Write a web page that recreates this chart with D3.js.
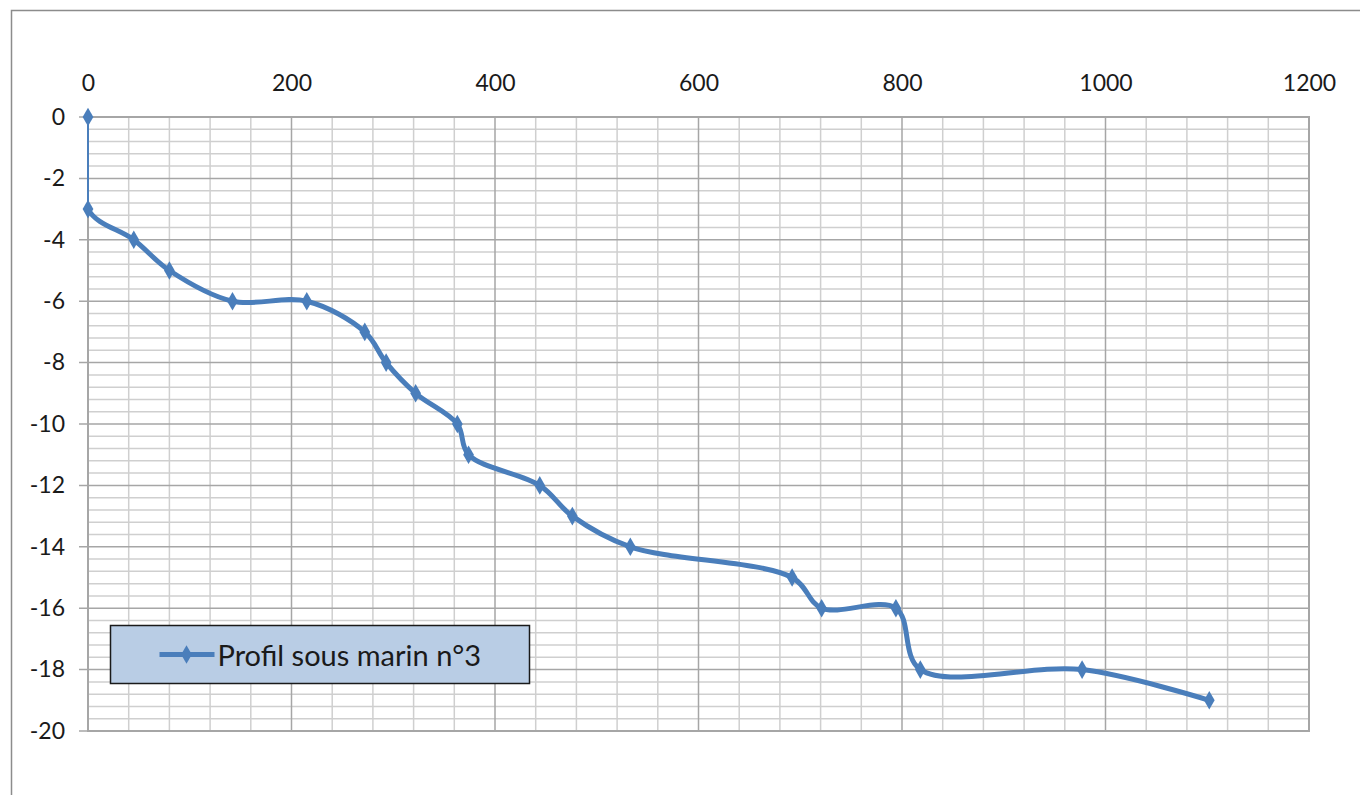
<!DOCTYPE html>
<html>
<head>
<meta charset="utf-8">
<script src="https://cdn.jsdelivr.net/npm/d3@7"></script>
<style>
  body { margin: 0; background: #fff; }
  text { font-family: Lato, "Open Sans", sans-serif; fill: #1a1a1a; }
</style>
</head>
<body>
<div id="chart"></div>
<script>
// profil sous marin n°3 : distance (m) / profondeur (m)
var distances = [0, 0, 45, 80, 142, 215, 272, 293, 322, 363, 374, 444, 476, 533, 692, 721, 794, 818, 977, 1102];
var profondeurs = [0, -3, -4, -5, -6, -6, -7, -8, -9, -10, -11, -12, -13, -14, -15, -16, -16, -18, -18, -19];
var xTicks = [0, 200, 400, 600, 800, 1000, 1200];
var yTicks = [0, -2, -4, -6, -8, -10, -12, -14, -16, -18, -20];
var seriesName = "Profil sous marin n°3";

var data = distances.map(function (d, i) { return { x: d, y: profondeurs[i] }; });

var margin = { top: 117, right: 51, bottom: 64, left: 88 },
    width = 1360 - margin.left - margin.right,
    height = 795 - margin.top - margin.bottom;

var svgRoot = d3.select("#chart")
    .append("svg")
    .attr("width", 1360)
    .attr("height", 795);

// cadre du graphique (seuls haut et gauche visibles)
svgRoot.append("rect")
    .attr("x", 11.5).attr("y", 10.5)
    .attr("width", 1400).attr("height", 900)
    .attr("fill", "none")
    .attr("stroke", "#8c8c8c")
    .attr("stroke-width", 1.5);

var svg = svgRoot.append("g")
    .attr("transform", "translate(" + margin.left + "," + margin.top + ")");

var x = d3.scaleLinear().domain([0, 1200]).range([0, width]);
var y = d3.scaleLinear().domain([0, -20]).range([0, height]);

// grille secondaire
svg.append("g")
    .selectAll("line")
    .data(d3.range(0, 1201, 40).filter(function (v) { return v % 200 !== 0; }))
    .enter().append("line")
    .attr("x1", function (d) { return x(d); }).attr("x2", function (d) { return x(d); })
    .attr("y1", 0).attr("y2", height)
    .attr("stroke", "#cfcfcf").attr("stroke-width", 1.5);

svg.append("g")
    .selectAll("line")
    .data(d3.range(0, 51).map(function (i) { return -i * 0.4; }).filter(function (v, i) { return i % 5 !== 0; }))
    .enter().append("line")
    .attr("x1", 0).attr("x2", width)
    .attr("y1", function (d) { return y(d); }).attr("y2", function (d) { return y(d); })
    .attr("stroke", "#cfcfcf").attr("stroke-width", 1.5);

// grille principale
svg.append("g")
    .selectAll("line")
    .data(xTicks)
    .enter().append("line")
    .attr("x1", function (d) { return x(d); }).attr("x2", function (d) { return x(d); })
    .attr("y1", 0).attr("y2", height)
    .attr("stroke", "#a6a6a6").attr("stroke-width", 1.5);

svg.append("g")
    .selectAll("line")
    .data(yTicks)
    .enter().append("line")
    .attr("x1", -9).attr("x2", width)
    .attr("y1", function (d) { return y(d); }).attr("y2", function (d) { return y(d); })
    .attr("stroke", "#a6a6a6").attr("stroke-width", 1.5);

svg.append("rect")
    .attr("width", width).attr("height", height)
    .attr("fill", "none")
    .attr("stroke", "#a6a6a6").attr("stroke-width", 2);

// axes (libellés seulement)
var xAxis = svg.append("g")
    .call(d3.axisTop(x).tickValues(xTicks).tickSize(0).tickPadding(26).tickFormat(d3.format("d")));
var yAxis = svg.append("g")
    .call(d3.axisLeft(y).tickValues(yTicks).tickSize(0).tickPadding(23).tickFormat(function (d) { return d === 0 ? "0" : "-" + Math.abs(d); }));
[xAxis, yAxis].forEach(function (a) {
    a.select(".domain").remove();
    a.selectAll("text").attr("font-size", 23).attr("font-family", "Lato").attr("fill", "#1a1a1a");
});

// courbe lissée
var color = "#4a7ebb";
var line = d3.line()
    .x(function (d) { return x(d.x); })
    .y(function (d) { return y(d.y); });

svg.append("clipPath").attr("id", "clipCurve")
    .append("rect")
    .attr("x", -30).attr("y", y(profondeurs[1]) - 2)
    .attr("width", width + 60).attr("height", height);

// premier tronçon vertical, trait fin
svg.append("path")
    .datum(data.slice(0, 2))
    .attr("fill", "none")
    .attr("stroke", color)
    .attr("stroke-width", 2)
    .attr("d", line);

svg.append("path")
    .datum(data)
    .attr("fill", "none")
    .attr("stroke", color)
    .attr("stroke-width", 5)
    .attr("stroke-linejoin", "round")
    .attr("clip-path", "url(#clipCurve)")
    .attr("d", line.curve(d3.curveCatmullRom.alpha(0.5)));

var diamond = d3.symbol().type(d3.symbolDiamond).size(100);
svg.append("g")
    .selectAll("path")
    .data(data)
    .enter().append("path")
    .attr("d", diamond)
    .attr("transform", function (d) { return "translate(" + x(d.x) + "," + y(d.y) + ")"; })
    .attr("fill", color);

// légende
var legend = svgRoot.append("g").attr("transform", "translate(110.5,625.5)");
legend.append("rect")
    .attr("width", 419).attr("height", 58)
    .attr("fill", "#b9cde5")
    .attr("stroke", "#1a1a1a").attr("stroke-width", 1.5);
legend.append("line")
    .attr("x1", 49).attr("x2", 104).attr("y1", 29).attr("y2", 29)
    .attr("stroke", color).attr("stroke-width", 5);
legend.append("path")
    .attr("d", diamond)
    .attr("transform", "translate(76,29)")
    .attr("fill", color);
legend.append("text")
    .attr("x", 107).attr("y", 30)
    .attr("dy", "0.35em")
    .attr("font-size", 29)
    .text(seriesName);
</script>
</body>
</html>
